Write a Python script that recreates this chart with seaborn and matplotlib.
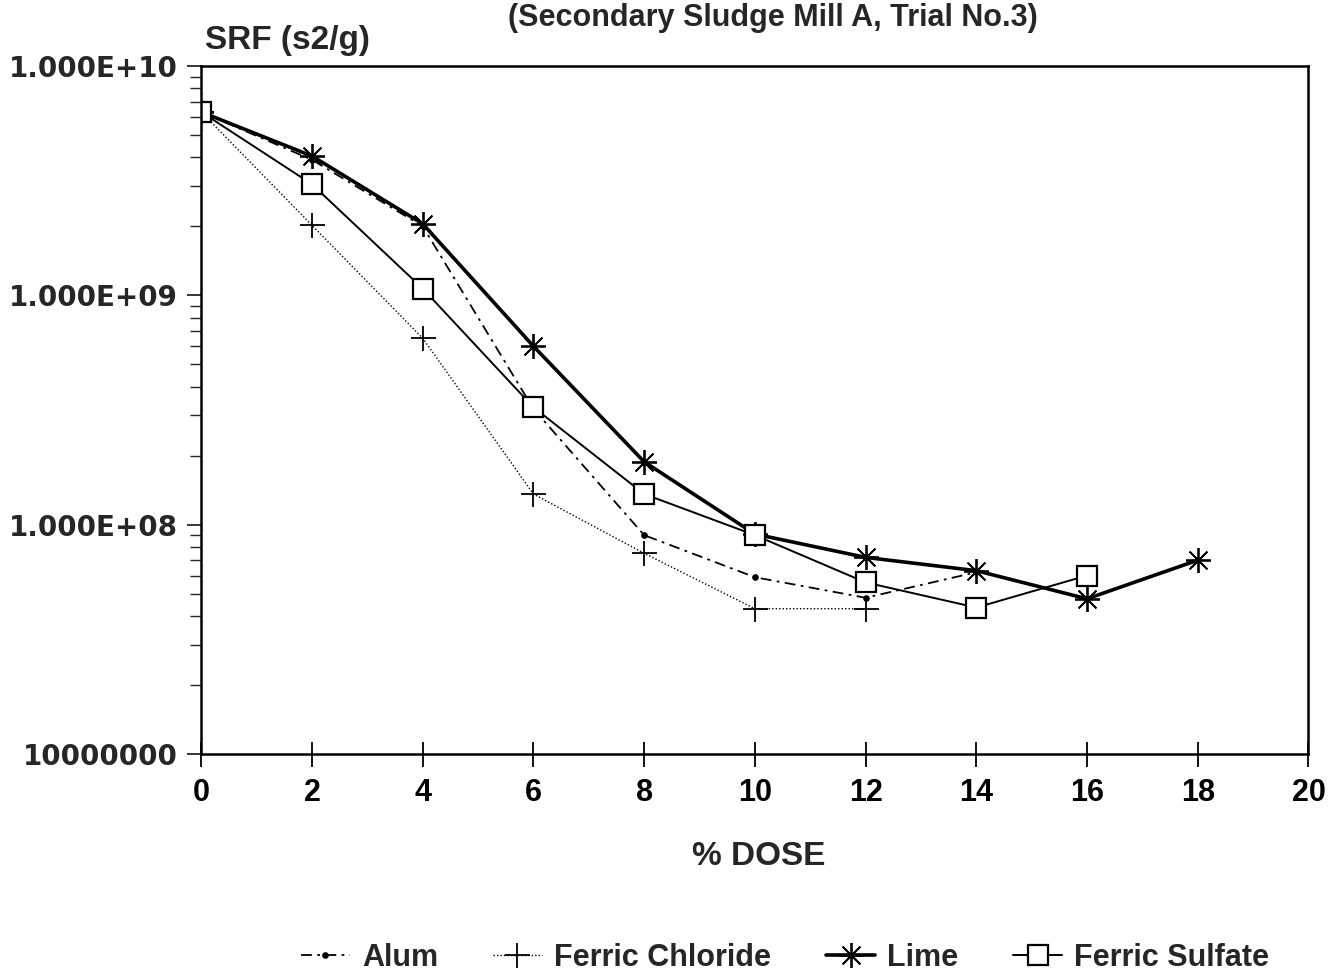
import numpy as np
import pandas as pd
import matplotlib
matplotlib.use("Agg")
import matplotlib.pyplot as plt
import seaborn as sns
from matplotlib.ticker import LogLocator, FixedLocator, NullFormatter

sns.set_theme(style="white")
plt.rcParams['font.family'] = ['Liberation Sans', 'DejaVu Sans']

# ---- data ----
dose_alum = [0, 2, 4, 6, 8, 10, 12, 14]
srf_alum = [6.3e9, 3.9e9, 2.0e9, 3.2e8, 9.0e7, 5.9e7, 4.8e7, 6.2e7]

dose_fcl = [0, 2, 4, 6, 8, 10, 12]
srf_fcl = [6.3e9, 2.02e9, 6.5e8, 1.36e8, 7.5e7, 4.3e7, 4.3e7]

dose_lime = [0, 2, 4, 6, 8, 10, 12, 14, 16, 18]
srf_lime = [6.3e9, 4.05e9, 2.05e9, 6.0e8, 1.88e8, 9.1e7, 7.2e7, 6.3e7, 4.75e7, 7.0e7]

dose_fs = [0, 2, 4, 6, 8, 10, 12, 14, 16]
srf_fs = [6.3e9, 3.05e9, 1.07e9, 3.25e8, 1.36e8, 9.0e7, 5.6e7, 4.35e7, 6.0e7]

series_names = ["Alum", "Ferric Chloride", "Lime", "Ferric Sulfate"]
x_ticks = [0, 2, 4, 6, 8, 10, 12, 14, 16, 18, 20]
y_major = [1e7, 1e8, 1e9, 1e10]
y_labels = ["10000000", "1.000E+08", "1.000E+09", "1.000E+10"]
title = "(Secondary Sludge Mill A, Trial No.3)"
ylabel = "SRF (s2/g)"
xlabel = "% DOSE"

frames = []
for name, xs, ys in zip(series_names,
                        [dose_alum, dose_fcl, dose_lime, dose_fs],
                        [srf_alum, srf_fcl, srf_lime, srf_fs]):
    frames.append(pd.DataFrame({"dose": xs, "srf": ys, "series": name}))
df = pd.concat(frames, ignore_index=True)

styles = {
    "Alum": dict(linestyle=(0, (6, 3, 1.5, 3)), linewidth=1.3, marker="o", markersize=4,
                 markerfacecolor="black", markeredgecolor="black"),
    "Ferric Chloride": dict(linestyle=(0, (1, 1.5)), linewidth=1.0, marker="+", markersize=18,
                            markeredgewidth=1.3, markeredgecolor="black"),
    "Lime": dict(linestyle="-", linewidth=2.6, marker=(8, 2, 0), markersize=18,
                 markeredgewidth=1.3, markeredgecolor="black"),
    "Ferric Sulfate": dict(linestyle="-", linewidth=1.4, marker="s", markersize=15,
                           markerfacecolor="white", markeredgewidth=1.6, markeredgecolor="black"),
}

fig = plt.figure(figsize=(13.42, 9.71), dpi=100)
ax = fig.add_axes([0.150, 0.2235, 0.825, 0.7085])

for name in series_names:
    sub = df[df["series"] == name]
    sns.lineplot(data=sub, x="dose", y="srf", ax=ax, color="black", label=name,
                 estimator=None, sort=False, **styles[name])

ax.set_yscale("log")
ax.set_xlim(0, 20)
ax.set_ylim(1e7, 1e10)

ax.xaxis.set_major_locator(FixedLocator(x_ticks))
ax.set_xticklabels([str(t) for t in x_ticks])
ax.yaxis.set_major_locator(FixedLocator(y_major))
ax.set_yticklabels(y_labels)
ax.yaxis.set_minor_locator(LogLocator(base=10, subs=np.arange(2, 10)))
ax.yaxis.set_minor_formatter(NullFormatter())

ax.tick_params(axis="x", direction="inout", length=18, width=1.3, pad=8,
               labelsize=22, bottom=True, colors="black")
ax.tick_params(axis="y", which="major", direction="out", length=10, width=1.3, pad=7,
               labelsize=20, left=True)
ax.tick_params(axis="y", which="minor", direction="out", length=8, width=1.0, left=True)
for lab in ax.get_xticklabels():
    lab.set_fontweight("bold")
for lab in ax.get_yticklabels():
    lab.set_fontweight("bold")
    lab.set_family("DejaVu Sans")

for sp in ax.spines.values():
    sp.set_color("black")
    sp.set_linewidth(1.8)
ax.set_xlabel("")
ax.set_ylabel("")

leg_handles, leg_labels = ax.get_legend_handles_labels()
ax.get_legend().remove()
fig.legend(leg_handles, leg_labels, loc="lower center", ncol=4, frameon=False,
           bbox_to_anchor=(0.585, -0.03), handlelength=1.6,
           columnspacing=1.8, handletextpad=0.4,
           prop={"weight": "bold", "size": 22})

fig.text(0.576, 0.997, title, ha="center", va="top", fontsize=22, fontweight="bold")
fig.text(0.153, 0.950, ylabel, ha="left", va="baseline", fontsize=24, fontweight="bold")
fig.text(0.565, 0.118, xlabel, ha="center", va="center", fontsize=24, fontweight="bold")

fig.savefig("out.png", dpi=100, facecolor="white")
